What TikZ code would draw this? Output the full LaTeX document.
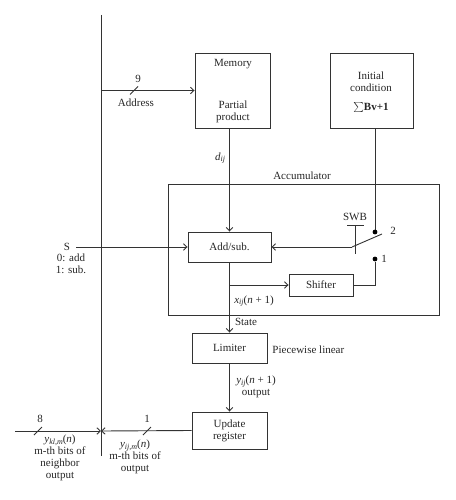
\documentclass[tikz,border=0pt]{standalone}
\usepackage{fontspec}
\setmainfont{Liberation Serif}
\usetikzlibrary{arrows.meta}
\newcommand{\vsub}[2]{\textit{#1}\raisebox{-0.35ex}{\fontsize{8}{9}\selectfont\textit{#2}}}
\begin{document}
\begin{tikzpicture}[x=1pt,y=-1pt,
  line width=0.9pt, draw=black!80,
  >={Straight Barb[length=3.5pt,width=6.5pt]},
  every node/.style={font=\fontsize{11}{12}\selectfont, text=black!85, inner sep=0pt},
  box/.style={draw=black!80, rectangle, line width=0.9pt},
  lbl/.style={align=center},
  dotmark/.style={circle, fill=black, minimum size=4.8pt, inner sep=0pt}]
\useasboundingbox (0,0) rectangle (455,500);

% boxes
\node[box, minimum width=75pt, minimum height=75pt] (mem) at (232.5,90.5) {};
\node[box, minimum width=83pt, minimum height=75pt] (init) at (371.5,90.5) {};
\node[box, minimum width=271pt, minimum height=131pt] (acc) at (303.5,249.5) {};
\node[box, minimum width=83pt, minimum height=30pt] (addsub) at (229.5,247) {Add/sub.};
\node[box, minimum width=64pt, minimum height=22pt] (shifter) at (321,285) {Shifter};
\node[box, minimum width=75pt, minimum height=30pt] (limiter) at (229.5,348) {Limiter};
\node[box, minimum width=75pt, minimum height=37pt, align=center] (update) at (229.5,430.5) {Update\\register};

% box texts
\node (memt) at (233,64) {Memory};
\node[lbl] (memp) at (233,112) {Partial\\product};
\node[lbl] (initt) at (371,82) {Initial\\condition};
\node (inits) at (371,108) {$\textstyle\sum$\textbf{Bv+1}};
\node (acct) at (302,176) {Accumulator};

% bus
\coordinate (bustop) at (101,15);
\coordinate (busbot) at (101,456);
\draw (bustop) -- (busbot);

% address
\draw[->] (bustop |- mem.west) -- (mem.west);
\draw (130,94.5) -- (138,86.5);
\node (nine) at (138,79) {9};
\node (addr) at (136,103) {Address};

% memory to add/sub
\draw[->] (addsub.north |- mem.south) -- (addsub.north);
\node (dij) at (220,158) {\vsub{d}{ij}};

% switch
\coordinate (dot2) at (375,232);
\coordinate (dot1) at (375,259);
\coordinate (swp) at (352,247);
\coordinate (swend) at (382,234);
\draw (dot2 |- init.south) -- (dot2);
\node[dotmark] (d2) at (dot2) {};
\node[dotmark] (d1) at (dot1) {};
\node (two) at (393,231) {2};
\node (one) at (384,259) {1};
\draw[->] (swp) -- (addsub.east);
\draw (swp) -- (swend);
\coordinate (swbtop) at (355,225);
\coordinate (swbbot) at (355,254);
\draw (swbtop) -- (swbbot);
\draw ([xshift=-8pt]swbtop) -- ([xshift=9pt]swbtop);
\node (swb) at (355,217) {SWB};

% shifter
\draw (shifter.east) -| (d1);
\coordinate (br) at (229.5,285);
\draw[->] (br) -- (shifter.west);

% add/sub to limiter
\draw[->] (addsub.south) -- (limiter.north);
\node (xij) at (254,301) {\vsub{x}{ij}(\textit{n} + 1)};
\node (state) at (246,322) {State};
\node[anchor=west] (pw) at (272,350) {Piecewise linear};

% limiter to update
\draw[->] (limiter.south) -- (update.north);
\node[lbl] (yij) at (256,387) {\vsub{y}{ij}(\textit{n} + 1)\\output};

% S input
\node (S) at (67,247) {S};
\node[lbl] (Sl) at (71,264) {0: add\\1: sub.};
\coordinate (sstart) at (76,247);
\draw[->] (sstart) -- (addsub.west);

% update to bus
\coordinate (busin) at (101,431);
\draw[->] (update.west) -- (busin);
\draw (143,435) -- (151,427);
\node (onebit) at (147,419) {1};
\node[lbl] (yijm) at (135,457) {\vsub{y}{ij,m}(\textit{n})\\m-th bits of\\output};

% neighbor to bus
\coordinate (lstart) at (15,431);
\draw[->] (lstart) -- (busin);
\draw (34,435) -- (42,427);
\node (eight) at (40,419) {8};
\node[lbl] (ykl) at (60,458) {\vsub{y}{kl,m}(\textit{n})\\m-th bits of\\neighbor\\output};
\end{tikzpicture}
\end{document}
